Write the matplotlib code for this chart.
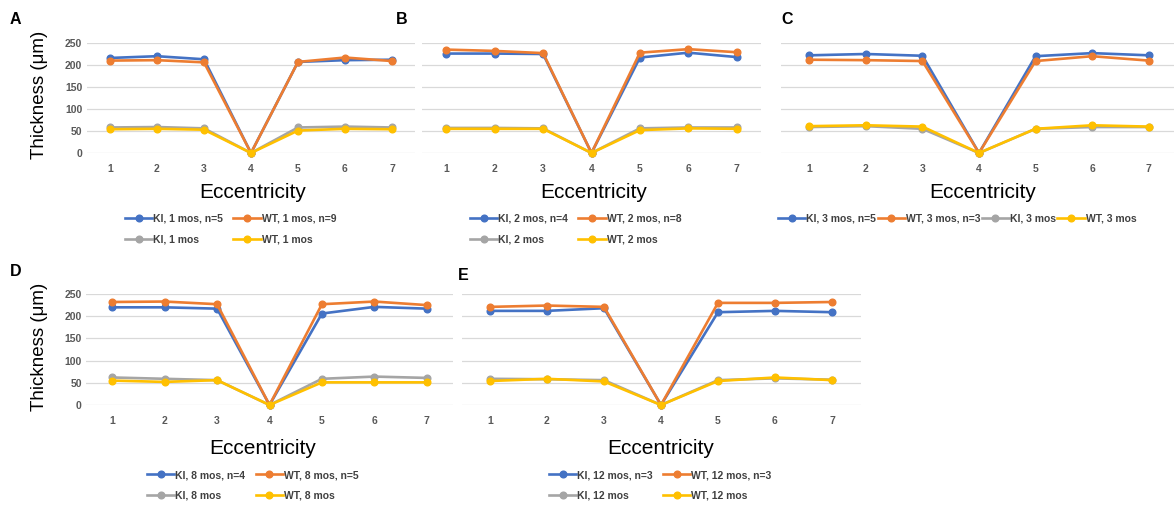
import matplotlib
matplotlib.use("Agg")
import matplotlib.pyplot as plt

plt.rcParams['font.family'] = ['Liberation Sans', 'DejaVu Sans']

W, H = 1174, 508
ecc = [1, 2, 3, 4, 5, 6, 7]
ecc_labels = ["1", "2", "3", "4", "5", "6", "7"]
yticks = [0, 50, 100, 150, 200, 250]

# Panel A - 1 mos
ki_1_n = [216, 220, 213, 0, 207, 211, 212]
wt_1_n = [210, 211, 206, 0, 207, 217, 209]
ki_1 = [58, 59, 56, 0, 58, 60, 58]
wt_1 = [54, 55, 53, 0, 51, 55, 54]
# Panel B - 2 mos
ki_2_n = [226, 226, 225, 0, 217, 228, 218]
wt_2_n = [235, 232, 227, 0, 228, 236, 229]
ki_2 = [57, 57, 56, 0, 56, 58, 58]
wt_2 = [55, 55, 55, 0, 52, 56, 55]
# Panel C - 3 mos
ki_3_n = [222, 225, 221, 0, 220, 227, 222]
wt_3_n = [212, 211, 209, 0, 209, 220, 210]
ki_3 = [59, 61, 55, 0, 55, 59, 59]
wt_3 = [61, 63, 60, 0, 55, 63, 60]
# Panel D - 8 mos
ki_8_n = [220, 220, 217, 0, 206, 221, 217]
wt_8_n = [232, 233, 227, 0, 227, 233, 225]
ki_8 = [62, 59, 56, 0, 59, 64, 61]
wt_8 = [55, 52, 56, 0, 51, 51, 51]
# Panel E - 12 mos
ki_12_n = [212, 212, 218, 0, 209, 212, 209]
wt_12_n = [221, 224, 221, 0, 230, 230, 232]
ki_12 = [59, 58, 56, 0, 56, 60, 57]
wt_12 = [54, 59, 53, 0, 54, 62, 56]

panels = [
    dict(letter="A", age="1 mos", n_ki=5, n_wt=9, data=(ki_1_n, wt_1_n, ki_1, wt_1),
         box=(86.5, 415.5, 43, 153), letter_xy=(10, 20), xl=(253, 192), leg=(125, 221), ncol=2, ylab=True),
    dict(letter="B", age="2 mos", n_ki=4, n_wt=8, data=(ki_2_n, wt_2_n, ki_2, wt_2),
         box=(422, 761, 43, 153), letter_xy=(396, 20), xl=(594, 192), leg=(470, 221), ncol=2, ylab=False),
    dict(letter="C", age="3 mos", n_ki=5, n_wt=3, data=(ki_3_n, wt_3_n, ki_3, wt_3),
         box=(781, 1177, 43, 153), letter_xy=(781, 20), xl=(983, 192), leg=(778, 221), ncol=4, ylab=False),
    dict(letter="D", age="8 mos", n_ki=4, n_wt=5, data=(ki_8_n, wt_8_n, ki_8, wt_8),
         box=(86, 453, 294, 405), letter_xy=(10, 271), xl=(263, 448), leg=(147, 477), ncol=2, ylab=True),
    dict(letter="E", age="12 mos", n_ki=3, n_wt=3, data=(ki_12_n, wt_12_n, ki_12, wt_12),
         box=(461.5, 860.5, 294, 405), letter_xy=(458, 275), xl=(661, 448), leg=(549, 477), ncol=2, ylab=False),
]

colors = ["#4472C4", "#ED7D31", "#A5A5A5", "#FFC000"]

fig = plt.figure(figsize=(W / 100, H / 100), dpi=100)

def fx(px):
    return px / W

def fy(py):
    return 1 - py / H

for p in panels:
    l, r, t, b = p["box"]
    ax = fig.add_axes([fx(l), fy(b), (r - l) / W, (b - t) / H])
    labels = [f"KI, {p['age']}, n={p['n_ki']}", f"WT, {p['age']}, n={p['n_wt']}",
              f"KI, {p['age']}", f"WT, {p['age']}"]
    handles = []
    for series, c, lab in zip(p["data"], colors, labels):
        h, = ax.plot(ecc, series, color=c, lw=1.9, marker="o", ms=4.8, label=lab,
                     clip_on=False, solid_joinstyle="round", zorder=3)
        handles.append(h)
    ax.set_xlim(0.5, 7.5)
    ax.set_ylim(0, 250)
    ax.set_yticks(yticks)
    ax.set_xticks(ecc)
    ax.set_xticklabels(ecc_labels)
    ax.grid(axis="y", color="#D9D9D9", lw=0.9, zorder=0)
    for s in ax.spines.values():
        s.set_visible(False)
    ax.tick_params(length=0, labelsize=7.5, labelcolor="#595959", pad=8)
    ax.tick_params(axis="y", pad=3)
    for tl in ax.get_xticklabels() + ax.get_yticklabels():
        tl.set_fontweight("bold")
    if not p["ylab"]:
        ax.set_yticklabels([])
    fig.text(fx(p["letter_xy"][0]), fy(p["letter_xy"][1]), p["letter"], fontsize=11.5,
             fontweight="bold", ha="left", va="center")
    fig.text(fx(p["xl"][0]), fy(p["xl"][1]), "Eccentricity", fontsize=15,
             ha="center", va="center")
    if p["ylab"]:
        fig.text(fx(40), fy((t + b) / 2 - 3), "Thickness (μm)", fontsize=13.5,
                 rotation=90, ha="center", va="center")
    if p["ncol"] == 2:
        order = [0, 2, 1, 3]
        cs = 1.0
    else:
        order = [0, 1, 2, 3]
        cs = 0.15
    lx, ly = p["leg"]
    leg = fig.legend([handles[i] for i in order], [labels[i] for i in order],
                     loc="upper left", bbox_to_anchor=(fx(lx), fy(ly - 7)),
                     ncol=p["ncol"], frameon=False, fontsize=7.5, borderpad=0,
                     borderaxespad=0, handlelength=2.6, handletextpad=0.1,
                     columnspacing=cs, labelspacing=1.0)
    for txt in leg.get_texts():
        txt.set_color("#404040")
        txt.set_fontweight("bold")

fig.savefig("out.png", dpi=100)
